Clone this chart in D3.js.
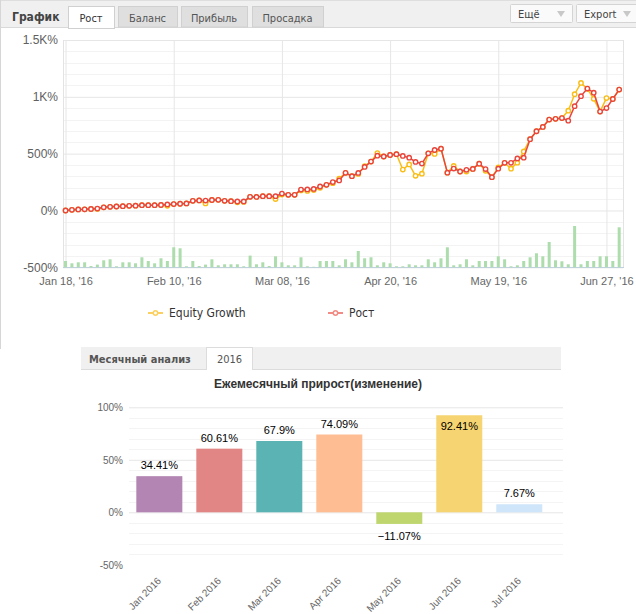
<!DOCTYPE html>
<html>
<head>
<meta charset="utf-8">
<script src="https://cdn.jsdelivr.net/npm/d3@7"></script>
<style>
body { margin: 0; background: #fff; }
svg { display: block; font-family: "Liberation Sans", Arial, sans-serif; }
</style>
</head>
<body>
<script>
// growth chart, one value per trading day (in %)
const growth = [0, 6, 9, 10, 13, 17, 28, 32, 35, 38, 41, 42, 47, 47, 47, 48, 53, 56, 59, 62,
  85, 88, 87, 92, 94, 85, 82, 79, 80, 120, 119, 126, 126, 126, 149, 138, 138, 184, 185, 190,
  211, 226, 250, 264, 331, 302, 330, 383, 430, 482, 475, 488, 495, 480, 465, 427, 413, 503, 532, 544,
  333, 369, 343, 358, 366, 412, 364, 293, 368, 419, 419, 458, 465, 627, 697, 735, 800, 806, 813, 790,
  918, 1006, 1073, 1036, 870, 901, 981, 1064];
const equity = [0, 6, 9, 10, 13, 14, 28, 32, 35, 38, 41, 42, 47, 47, 47, 48, 41, 56, 59, 62,
  85, 88, 62, 92, 94, 85, 82, 72, 75, 120, 119, 126, 126, 100, 140, 138, 138, 176, 172, 180,
  200, 226, 240, 280, 330, 302, 322, 390, 430, 505, 475, 488, 495, 360, 405, 305, 324, 503, 498, 544,
  333, 392, 343, 342, 366, 412, 349, 293, 378, 419, 368, 421, 520, 627, 697, 735, 800, 806, 813, 878,
  1023, 1122, 1070, 982, 870, 989, 981, 1064];
// small green bars under the lines
const volume = [6.3, 4, 5, 5, 1.3, 2.7, 7, 8, 1, 5, 5, 4, 10, 6.3, 4, 9, 6.3, 20, 19, 1,
  6.3, 1.3, 2.7, 8, 2, 3, 3, 3, 1, 11.7, 3, 5, 1.3, 11, 5, 2, 2, 10, 1, 0.5,
  6.3, 6.3, 6.3, 2, 8, 5, 16.3, 9, 10, 2, 5, 4, 1, 1, 3, 2, 2, 8, 5, 9,
  20, 2, 3, 8, 2, 6.3, 6.3, 6.3, 11, 8, 1, 2, 6.3, 10, 14, 11, 25.3, 7, 6, 3,
  41.3, 3, 6.3, 6.3, 11, 11, 6.3, 40];
const xTickIdx = [0, 17, 34, 51, 68, 85];
const xTickLabels = ["Jan 18, '16", "Feb 10, '16", "Mar 08, '16", "Apr 20, '16", "May 19, '16", "Jun 27, '16"];
const yTicks = [-500, 0, 500, 1000, 1500];
const yTickLabels = ["-500%", "0%", "500%", "1K%", "1.5K%"];

const tabs = ["Рост", "Баланс", "Прибыль", "Просадка"];

const months = ["Jan 2016", "Feb 2016", "Mar 2016", "Apr 2016", "May 2016", "Jun 2016", "Jul 2016"];
const monthly = [34.41, 60.61, 67.9, 74.09, -11.07, 92.41, 7.67];
const monthColors = ["#b385b2", "#e18684", "#5bb4b3", "#ffbd93", "#bfd66e", "#f6d471", "#cfe6fa"];
const mTicks = [100, 50, 0, -50];

const svg = d3.select("body").append("svg")
  .attr("width", 636)
  .attr("height", 614);

// ---------- top panel frame + tabs
svg.append("rect").attr("x", 0).attr("y", 0).attr("width", 636).attr("height", 27).attr("fill", "#f0f0f0");
svg.append("line").attr("x1", 0).attr("x2", 636).attr("y1", 27.5).attr("y2", 27.5).attr("stroke", "#d9d9d9");
svg.append("line").attr("x1", 0).attr("x2", 636).attr("y1", 0.5).attr("y2", 0.5).attr("stroke", "#dedede");
svg.append("line").attr("x1", 0.5).attr("x2", 0.5).attr("y1", 0).attr("y2", 349).attr("stroke", "#d6d6d6");

svg.append("text").attr("x", 12).attr("y", 21)
  .style("font-family", "'DejaVu Sans Condensed', Tahoma, sans-serif")
  .style("font-size", "12px").style("font-weight", "bold").attr("fill", "#444")
  .text("График");

const tabX = [68, 118, 181, 252];
const tabW = [46, 59, 66, 71];
tabs.forEach(function(t, i) {
  svg.append("rect")
    .attr("x", tabX[i] + 0.5).attr("y", 6.5)
    .attr("width", tabW[i]).attr("height", i == 0 ? 22 : 20.5)
    .attr("fill", i == 0 ? "#fff" : "#dfdfdf")
    .attr("stroke", "#d0d0d0");
  svg.append("text")
    .attr("x", tabX[i] + tabW[i] / 2).attr("y", 22)
    .attr("text-anchor", "middle")
    .style("font-family", "'DejaVu Sans Condensed', Tahoma, sans-serif")
    .style("font-size", "11px").attr("fill", i == 0 ? "#333" : "#555")
    .text(t);
});

// buttons on the right
[[510, 62, "Ещё"], [576, 62, "Export"]].forEach(function(b) {
  svg.append("rect").attr("x", b[0] + 0.5).attr("y", 4.5).attr("width", b[1]).attr("height", 18)
    .attr("fill", "#fafafa").attr("stroke", "#d4d4d4").attr("rx", 1);
  svg.append("text").attr("x", b[0] + 8).attr("y", 18)
    .style("font-family", "'DejaVu Sans Condensed', Tahoma, sans-serif")
    .style("font-size", "11px").attr("fill", "#444").text(b[2]);
  svg.append("path")
    .attr("d", "M" + (b[0] + b[1] - 15) + ",11 l8,0 l-4,6 z")
    .attr("fill", "#c8c8c8");
});

// ---------- growth chart
const x = d3.scaleLinear().domain([-0.4, 87.6]).range([63, 623]);
const y = d3.scaleLinear().domain([-500, 1500]).range([267.3, 40]);
const yv = d3.scaleLinear().domain([0, 50]).range([267.3, 217.3]);

const g = svg.append("g");

// minor grid
g.selectAll(".minor").data(d3.range(-400, 1500, 100).filter(function(d) { return d % 500 != 0; }))
  .enter().append("line")
  .attr("x1", 63).attr("x2", 623)
  .attr("y1", function(d) { return Math.round(y(d)) + 0.5; })
  .attr("y2", function(d) { return Math.round(y(d)) + 0.5; })
  .attr("stroke", "#f3f3f3");

const yAxis = d3.axisLeft(y).tickValues(yTicks).tickSize(-560)
  .tickFormat(function(d, i) { return yTickLabels[i]; });
const yg = g.append("g").attr("transform", "translate(63,0)").call(yAxis);
yg.select(".domain").remove();
yg.selectAll("line").attr("stroke", "#e6e6e6");
yg.selectAll("text").attr("x", -5).attr("fill", "#606060").style("font-size", "12px");

const xAxis = d3.axisBottom(x).tickValues(xTickIdx).tickSize(-227)
  .tickFormat(function(d, i) { return xTickLabels[i]; });
const xg = g.append("g").attr("transform", "translate(0,267.3)").call(xAxis);
xg.select(".domain").remove();
xg.selectAll("line").attr("stroke", "#e6e6e6");
xg.selectAll("text").attr("y", 10).attr("fill", "#666").style("font-size", "11px");

// plot borders
g.append("line").attr("x1", 63.5).attr("x2", 63.5).attr("y1", 40).attr("y2", 268).attr("stroke", "#e3e3e3");
g.append("line").attr("x1", 623.5).attr("x2", 623.5).attr("y1", 40).attr("y2", 268).attr("stroke", "#e3e3e3");
g.append("line").attr("x1", 63).attr("x2", 624).attr("y1", 267.5).attr("y2", 267.5).attr("stroke", "#c0d0e0");

// volume bars
g.selectAll(".vol").data(volume).enter().append("rect")
  .attr("x", function(d, i) { return x(i) - 1.5; })
  .attr("width", 3)
  .attr("y", function(d) { return yv(d); })
  .attr("height", function(d) { return yv(0) - yv(d); })
  .attr("fill", "#addcad");

const line = d3.line()
  .x(function(d, i) { return x(i); })
  .y(function(d) { return y(d); });

function series(data, color) {
  g.append("path").datum(data)
    .attr("d", line)
    .attr("fill", "none")
    .attr("stroke", color)
    .attr("stroke-width", 1.5);
  g.selectAll(null).data(data).enter().append("circle")
    .attr("cx", function(d, i) { return x(i); })
    .attr("cy", function(d) { return y(d); })
    .attr("r", 2.2)
    .attr("fill", "#fff")
    .attr("stroke", color)
    .attr("stroke-width", 1.4);
}
series(equity, "#f9bd15");
series(growth, "#e8453c");

// legend
const legend = [["Equity Growth", "#fcd060", 148], ["Рост", "#f28b84", 328]];
legend.forEach(function(l) {
  svg.append("line").attr("x1", l[2]).attr("x2", l[2] + 15).attr("y1", 313).attr("y2", 313)
    .attr("stroke", l[1]).attr("stroke-width", 2);
  svg.append("circle").attr("cx", l[2] + 7.5).attr("cy", 313).attr("r", 2.2)
    .attr("fill", "#fff").attr("stroke", l[1]).attr("stroke-width", 1.4);
  svg.append("text").attr("x", l[2] + 21).attr("y", 317)
    .style("font-family", "'DejaVu Sans Condensed', Tahoma, sans-serif")
    .style("font-size", "12px").attr("fill", "#333").text(l[0]);
});

// ---------- monthly analysis
svg.append("rect").attr("x", 81).attr("y", 347).attr("width", 480).attr("height", 22).attr("fill", "#f0f0f0");
svg.append("line").attr("x1", 81).attr("x2", 561).attr("y1", 369.5).attr("y2", 369.5).attr("stroke", "#dcdcdc");
svg.append("rect").attr("x", 206.5).attr("y", 347.5).attr("width", 46).attr("height", 22)
  .attr("fill", "#fff").attr("stroke", "#dcdcdc");
svg.append("rect").attr("x", 207).attr("y", 368).attr("width", 45).attr("height", 3).attr("fill", "#fff");
svg.append("text").attr("x", 89).attr("y", 363)
  .style("font-family", "'DejaVu Sans Condensed', Tahoma, sans-serif")
  .style("font-size", "11px").style("font-weight", "bold").attr("fill", "#555")
  .text("Месячный анализ");
svg.append("text").attr("x", 229.5).attr("y", 363).attr("text-anchor", "middle")
  .style("font-family", "'DejaVu Sans Condensed', Tahoma, sans-serif")
  .style("font-size", "11px").attr("fill", "#555").text("2016");

svg.append("text").attr("x", 318).attr("y", 388).attr("text-anchor", "middle")
  .style("font-size", "12px").style("font-weight", "bold").attr("fill", "#333")
  .text("Ежемесячный прирост(изменение)");

const mx = d3.scaleBand().domain(months).range([129.3, 549.3]).paddingInner(0.233).paddingOuter(0.117);
const my = d3.scaleLinear().domain([-50, 100]).range([564.8, 407.3]);

const mg = svg.append("g");
mg.selectAll(".mminor").data(d3.range(-40, 100, 10).filter(function(d) { return d % 50 != 0; }))
  .enter().append("line")
  .attr("x1", 129).attr("x2", 563)
  .attr("y1", function(d) { return Math.round(my(d)) + 0.5; })
  .attr("y2", function(d) { return Math.round(my(d)) + 0.5; })
  .attr("stroke", "#f4f4f4");

const myAxis = d3.axisLeft(my).tickValues(mTicks).tickSize(-434)
  .tickFormat(function(d) { return d + "%"; });
const myg = mg.append("g").attr("transform", "translate(129,0)").call(myAxis);
myg.select(".domain").remove();
myg.selectAll("line").attr("stroke", "#e6e6e6");
myg.selectAll(".tick").filter(function(d) { return d == -50; }).select("line").remove();
myg.selectAll("text").attr("x", -6).attr("fill", "#666").style("font-size", "10px");

mg.selectAll(".bar").data(monthly).enter().append("rect")
  .attr("x", function(d, i) { return mx(months[i]); })
  .attr("width", mx.bandwidth())
  .attr("y", function(d) { return d > 0 ? my(d) : my(0); })
  .attr("height", function(d) { return Math.abs(my(d) - my(0)); })
  .attr("fill", function(d, i) { return monthColors[i]; });

mg.selectAll(".blab").data(monthly).enter().append("text")
  .attr("x", function(d, i) { return mx(months[i]) + mx.bandwidth() / 2; })
  .attr("y", function(d) {
    if (d < 0) return my(d) + 16;
    const yy = my(d) - 7;
    return yy - 10 < 407 ? my(d) + 15 : yy;
  })
  .attr("text-anchor", "middle")
  .style("font-size", "11px").attr("fill", "#000")
  .text(function(d) { return d.toFixed(2).replace(/0$/, "").replace("-", "\u2212") + "%"; });

const mxAxis = d3.axisBottom(mx).tickSize(0);
const mxg = mg.append("g").attr("transform", "translate(0,572)").call(mxAxis);
mxg.select(".domain").remove();
mxg.selectAll("text")
  .attr("transform", "translate(0,7) rotate(-45)")
  .attr("x", 0).attr("y", 0).attr("dy", "0.35em")
  .style("text-anchor", "end")
  .attr("fill", "#666").style("font-size", "10px");
</script>
</body>
</html>
